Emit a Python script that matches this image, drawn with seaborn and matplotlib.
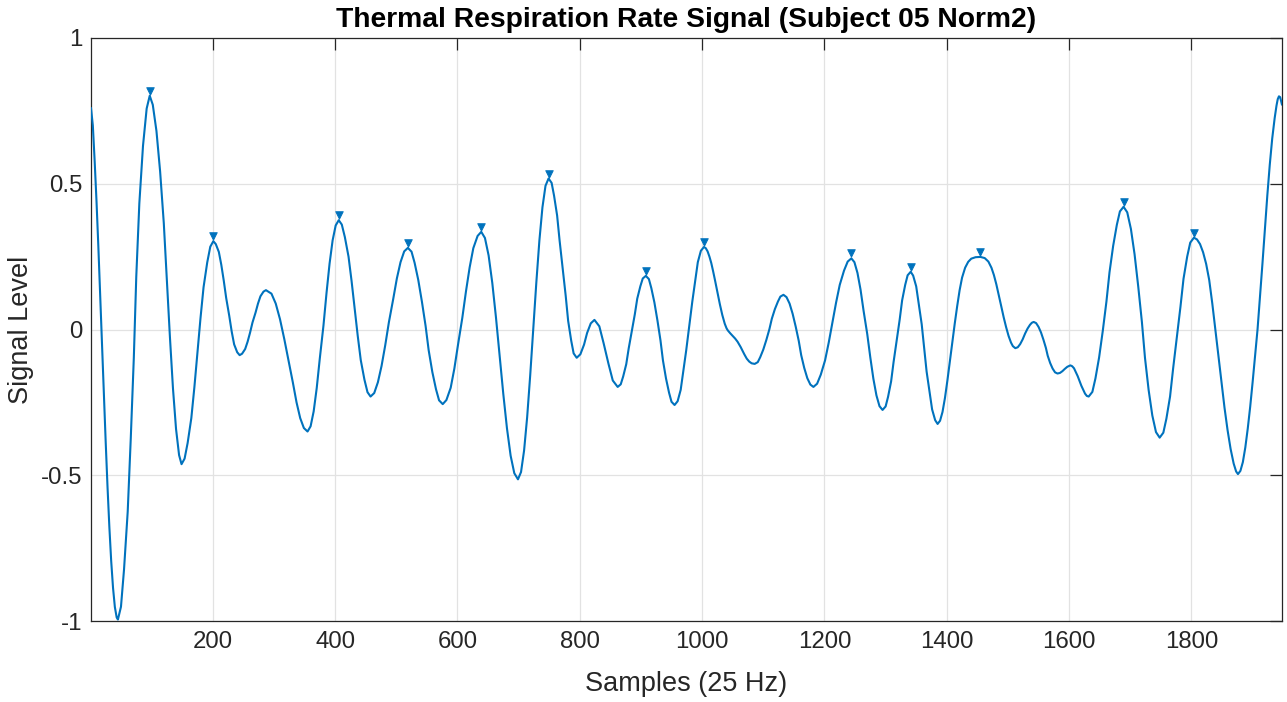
import matplotlib
matplotlib.use("Agg")
import matplotlib.pyplot as plt
import matplotlib.transforms as mtransforms
import pandas as pd
import seaborn as sns

# ---- data (sample index, signal level) ----
sample_idx = [
    1, 4, 7, 10, 13, 16, 19, 22, 25, 28, 31, 34, 37, 40, 43, 45,
    50, 55, 61, 66, 71, 75, 80, 86, 92, 97,
    102, 108, 114, 120, 125, 130, 135, 140, 145, 149,
    154, 159, 165, 170, 175, 180, 185, 191, 196, 201,
    205, 210, 214, 218, 222, 227, 231, 235, 240, 244,
    248, 253, 257, 261, 265, 270, 274, 278, 283, 287,
    296, 303, 310, 317, 324, 331, 337, 343, 349, 355,
    360, 365, 370, 375, 381, 386, 391, 396, 401, 406,
    411, 416, 422, 427, 432, 437, 442, 448, 453, 458,
    464, 470, 476, 482, 488, 495, 501, 507, 513, 519,
    525, 530, 536, 542, 548, 553, 559, 565, 570, 576,
    582, 589, 595, 601, 608, 614, 620, 626, 633, 639,
    645, 651, 657, 663, 669, 675, 681, 687, 693, 699,
    704, 709, 714, 719, 724, 729, 734, 739, 744, 749,
    754, 758, 763, 767, 772, 777, 781, 786, 790, 795,
    801, 807, 812, 818, 824,
    832, 839, 847, 854, 862,
    867, 871, 876, 880, 885, 890, 894, 899, 903, 908,
    913, 917, 922, 927, 932, 936, 941, 946, 950, 955,
    960, 965, 969, 974, 979, 984, 989, 993, 998, 1003,
    1006, 1009, 1012, 1015, 1018, 1021, 1025, 1029, 1033, 1037, 1040,
    1042, 1046, 1050, 1054, 1058, 1063, 1069, 1073, 1077, 1081, 1086,
    1091, 1095, 1100, 1105, 1110, 1114, 1119, 1124, 1128, 1133,
    1138, 1143, 1148, 1153, 1158, 1162, 1167, 1172, 1177, 1182,
    1188, 1194, 1201, 1207, 1213, 1219, 1225, 1232, 1238, 1244,
    1249, 1254, 1259, 1264, 1270, 1275, 1280, 1285, 1290, 1295,
    1300, 1304, 1309, 1313, 1318, 1323, 1327, 1332, 1336, 1341,
    1345, 1350, 1354, 1359, 1363, 1367, 1372, 1376, 1381, 1385,
    1389, 1393, 1397, 1401, 1405, 1409, 1413, 1417, 1421, 1425, 1430, 1435, 1440, 1447,
    1455, 1462, 1468, 1473, 1477, 1481, 1485, 1489, 1493, 1497, 1501, 1505, 1508, 1512,
    1516, 1520, 1524, 1528, 1532, 1536, 1539, 1542,
    1546, 1550, 1554, 1558, 1562, 1565, 1569, 1573, 1577, 1581,
    1585, 1589, 1593, 1597, 1602,
    1605, 1608, 1614, 1620, 1626, 1629, 1632,
    1638, 1643, 1649, 1655, 1661, 1666, 1672, 1678, 1683, 1689,
    1695, 1701, 1707, 1713, 1719, 1724, 1730, 1736, 1742, 1748,
    1754, 1759, 1765, 1770, 1776, 1782, 1787, 1793, 1798, 1804,
    1809, 1814, 1819, 1824, 1829, 1834, 1839, 1844, 1849, 1854, 1859, 1864, 1869, 1873, 1876,
    1880, 1884, 1888, 1892, 1896, 1900, 1904, 1908, 1912, 1916,
    1920, 1924, 1928, 1932, 1936, 1939, 1941, 1943, 1945, 1948,
]
signal_level = [
    0.760, 0.700, 0.577, 0.440, 0.285, 0.120, -0.050, -0.220, -0.385, -0.540, -0.677, -0.794, -0.886, -0.952, -0.988, -0.995,
    -0.951, -0.823, -0.625, -0.374, -0.097, 0.181, 0.432, 0.630, 0.758, 0.802,
    0.771, 0.681, 0.542, 0.365, 0.170, -0.025, -0.202, -0.341, -0.431, -0.462,
    -0.443, -0.389, -0.304, -0.198, -0.080, 0.039, 0.145, 0.230, 0.284, 0.303,
    0.293, 0.266, 0.222, 0.168, 0.108, 0.047, -0.007, -0.051, -0.078, -0.088,
    -0.083, -0.067, -0.042, -0.011, 0.024, 0.058, 0.089, 0.114, 0.130, 0.135,
    0.123, 0.089, 0.035, -0.033, -0.108, -0.182, -0.250, -0.304, -0.338, -0.350,
    -0.332, -0.281, -0.201, -0.100, 0.013, 0.125, 0.226, 0.306, 0.357, 0.375,
    0.360, 0.317, 0.250, 0.166, 0.073, -0.021, -0.105, -0.172, -0.215, -0.230,
    -0.218, -0.181, -0.125, -0.054, 0.025, 0.104, 0.175, 0.231, 0.268, 0.280,
    0.267, 0.229, 0.170, 0.095, 0.012, -0.071, -0.146, -0.205, -0.243, -0.256,
    -0.242, -0.200, -0.134, -0.052, 0.040, 0.131, 0.213, 0.279, 0.321, 0.335,
    0.314, 0.254, 0.160, 0.042, -0.090, -0.221, -0.339, -0.433, -0.493, -0.514,
    -0.489, -0.415, -0.301, -0.157, 0.002, 0.161, 0.305, 0.419, 0.493, 0.518,
    0.503, 0.459, 0.391, 0.306, 0.211, 0.116, 0.030, -0.038, -0.082, -0.097,
    -0.085, -0.052, -0.012, 0.021, 0.033,
    0.011, -0.047, -0.118, -0.175, -0.197,
    -0.188, -0.161, -0.119, -0.065, -0.007, 0.052, 0.106, 0.148, 0.175, 0.184,
    0.173, 0.142, 0.093, 0.031, -0.038, -0.106, -0.168, -0.217, -0.248, -0.259,
    -0.246, -0.207, -0.147, -0.072, 0.012, 0.096, 0.171, 0.231, 0.270, 0.283,
    0.279, 0.268, 0.250, 0.228, 0.200, 0.170, 0.128, 0.087, 0.050, 0.020, 0.004,
    -0.003, -0.013, -0.022, -0.031, -0.042, -0.060, -0.085, -0.100, -0.110, -0.116, -0.118,
    -0.112, -0.095, -0.069, -0.036, 0.001, 0.037, 0.070, 0.096, 0.113, 0.119,
    0.111, 0.089, 0.054, 0.010, -0.039, -0.088, -0.132, -0.167, -0.189, -0.197,
    -0.186, -0.155, -0.106, -0.045, 0.024, 0.092, 0.153, 0.202, 0.233, 0.244,
    0.231, 0.194, 0.137, 0.064, -0.016, -0.096, -0.169, -0.226, -0.263, -0.276,
    -0.264, -0.231, -0.178, -0.112, -0.039, 0.034, 0.100, 0.153, 0.186, 0.198,
    0.185, 0.148, 0.090, 0.018, -0.063, -0.144, -0.216, -0.274, -0.311, -0.324,
    -0.313, -0.283, -0.235, -0.175, -0.110, -0.045, 0.020, 0.080, 0.135, 0.178, 0.212, 0.232, 0.243, 0.248,
    0.249, 0.245, 0.233, 0.212, 0.187, 0.155, 0.118, 0.080, 0.042, 0.008, -0.022, -0.045, -0.057, -0.064,
    -0.061, -0.050, -0.034, -0.014, 0.003, 0.016, 0.023, 0.026,
    0.022, 0.009, -0.010, -0.035, -0.063, -0.090, -0.115, -0.134, -0.147, -0.151,
    -0.149, -0.143, -0.135, -0.128, -0.123,
    -0.126, -0.133, -0.160, -0.193, -0.220, -0.228, -0.230,
    -0.214, -0.168, -0.096, -0.005, 0.096, 0.196, 0.287, 0.359, 0.405, 0.421,
    0.402, 0.345, 0.258, 0.147, 0.025, -0.097, -0.208, -0.295, -0.352, -0.371,
    -0.354, -0.306, -0.230, -0.134, -0.028, 0.078, 0.174, 0.250, 0.298, 0.315,
    0.309, 0.293, 0.265, 0.225, 0.170, 0.090, 0.000, -0.090, -0.180, -0.268, -0.345, -0.410, -0.460, -0.487, -0.496,
    -0.485, -0.455, -0.405, -0.340, -0.265, -0.180, -0.090, 0.000, 0.110, 0.225,
    0.345, 0.460, 0.565, 0.655, 0.725, 0.768, 0.790, 0.800, 0.797, 0.771,
]
assert len(sample_idx) == len(signal_level)

peak_idx = [97, 201, 406, 519, 639, 749, 908, 1003, 1244, 1341, 1455, 1689, 1804]
peak_level = [0.802, 0.303, 0.375, 0.280, 0.335, 0.518, 0.184, 0.283, 0.244, 0.198, 0.249, 0.421, 0.315]

x_ticks = [200, 400, 600, 800, 1000, 1200, 1400, 1600, 1800]
y_ticks = [-1, -0.5, 0, 0.5, 1]
y_tick_labels = ["-1", "-0.5", "0", "0.5", "1"]
x_limits = [1, 1948]
y_limits = [-1, 1]

title_text = "Thermal Respiration Rate Signal (Subject 05 Norm2)"
x_label_text = "Samples (25 Hz)"
y_label_text = "Signal Level"

# ---- style ----
sns.set_theme(style="white")
plt.rcParams["font.family"] = ["Liberation Sans", "DejaVu Sans"]
plt.rcParams["axes.unicode_minus"] = False

line_color = "#0072BD"
axis_color = "#262626"

W, H = 1287, 702
fig = plt.figure(figsize=(W / 100, H / 100), dpi=100)
ax_l, ax_r, ax_t, ax_b = 91, 1282, 38, 621
ax = fig.add_axes([ax_l / W, 1 - ax_b / H, (ax_r - ax_l) / W, (ax_b - ax_t) / H])

df = pd.DataFrame({"Sample": sample_idx, "Level": signal_level})
sns.lineplot(data=df, x="Sample", y="Level", ax=ax, color=line_color,
             linewidth=1.5, estimator=None, sort=False, zorder=3)

pk = pd.DataFrame({"Sample": peak_idx, "Level": peak_level})
marker_tr = mtransforms.offset_copy(ax.transData, fig=fig, x=0, y=5, units="dots")
sns.scatterplot(data=pk, x="Sample", y="Level", ax=ax, marker="v", s=30,
                color=line_color, edgecolor=line_color, linewidth=0.6,
                transform=marker_tr, zorder=4, clip_on=False)

ax.set_xlim(*x_limits)
ax.set_ylim(*y_limits)
ax.set_xticks(x_ticks)
ax.set_xticklabels([str(t) for t in x_ticks])
ax.set_yticks(y_ticks)
ax.set_yticklabels(y_tick_labels)

ax.grid(True, color="#e2e2e2", linewidth=0.9)
ax.set_axisbelow(True)
for sp in ax.spines.values():
    sp.set_color(axis_color)
    sp.set_linewidth(0.9)
    sp.set_visible(True)

ax.tick_params(axis="both", which="major", direction="in", length=8.6, width=0.9,
               color=axis_color, labelcolor=axis_color, labelsize=17.3,
               top=True, right=True)
ax.tick_params(axis="x", pad=7)
ax.tick_params(axis="y", pad=6)

ax.set_xlabel(x_label_text, fontsize=19.5, color=axis_color)
ax.set_ylabel(y_label_text, fontsize=19.5, color=axis_color)
ax.xaxis.set_label_coords(0.5, (ax_b - 671) / (ax_b - ax_t))
ax.yaxis.set_label_coords((34 - ax_l) / (ax_r - ax_l), 0.5)
ax.set_title(title_text, fontsize=20.3, fontweight="bold", color="black", pad=8)

fig.savefig("out.png", dpi=100)
